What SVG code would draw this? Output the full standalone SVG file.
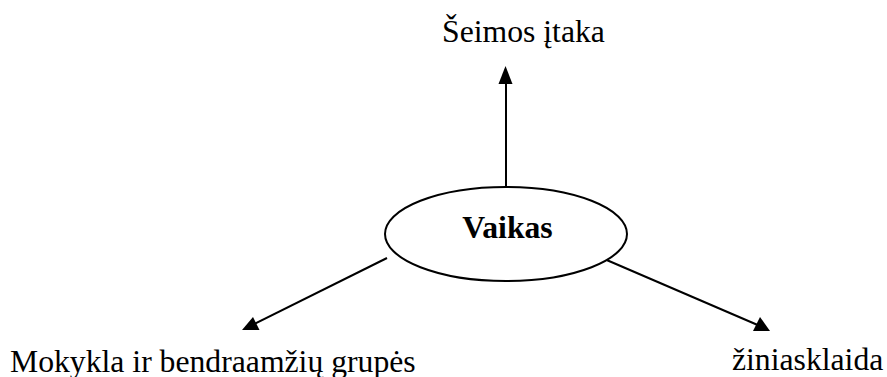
<svg xmlns="http://www.w3.org/2000/svg" width="887" height="377" viewBox="0 0 887 377">
<style>
text{font-family:"Liberation Serif","Times New Roman",serif;font-size:31.7px;fill:#000}
.c{stroke:#000;stroke-width:2;fill:none}
.ah{fill:#000}
</style>
<rect width="887" height="377" fill="#fff"/>
<g id="connectors">
<line class="c" x1="506" y1="187" x2="506" y2="80"/>
<path class="ah" d="M498.5,84L505.5,66L512.5,84z"/>
<line class="c" x1="387" y1="258" x2="250" y2="326"/>
<path class="ah" d="M242,330L253,317L259.5,330z"/>
<line class="c" x1="602" y1="258" x2="760" y2="326"/>
<path class="ah" d="M770,331L753,331L760,317z"/>
</g>
<g id="vaikas">
<ellipse cx="506" cy="234" rx="121" ry="47" fill="#fff" stroke="#000" stroke-width="2"/>
<text x="507.5" y="238" text-anchor="middle" font-weight="bold" font-size="31">Vaikas</text>
</g>
<g id="seimos"><text x="523.5" y="42" text-anchor="middle">Šeimos įtaka</text></g>
<g id="mokykla"><text x="10" y="372">Mokykla ir bendraamžių grupės</text></g>
<g id="ziniasklaida"><text x="732" y="370">žiniasklaida</text></g>
</svg>
